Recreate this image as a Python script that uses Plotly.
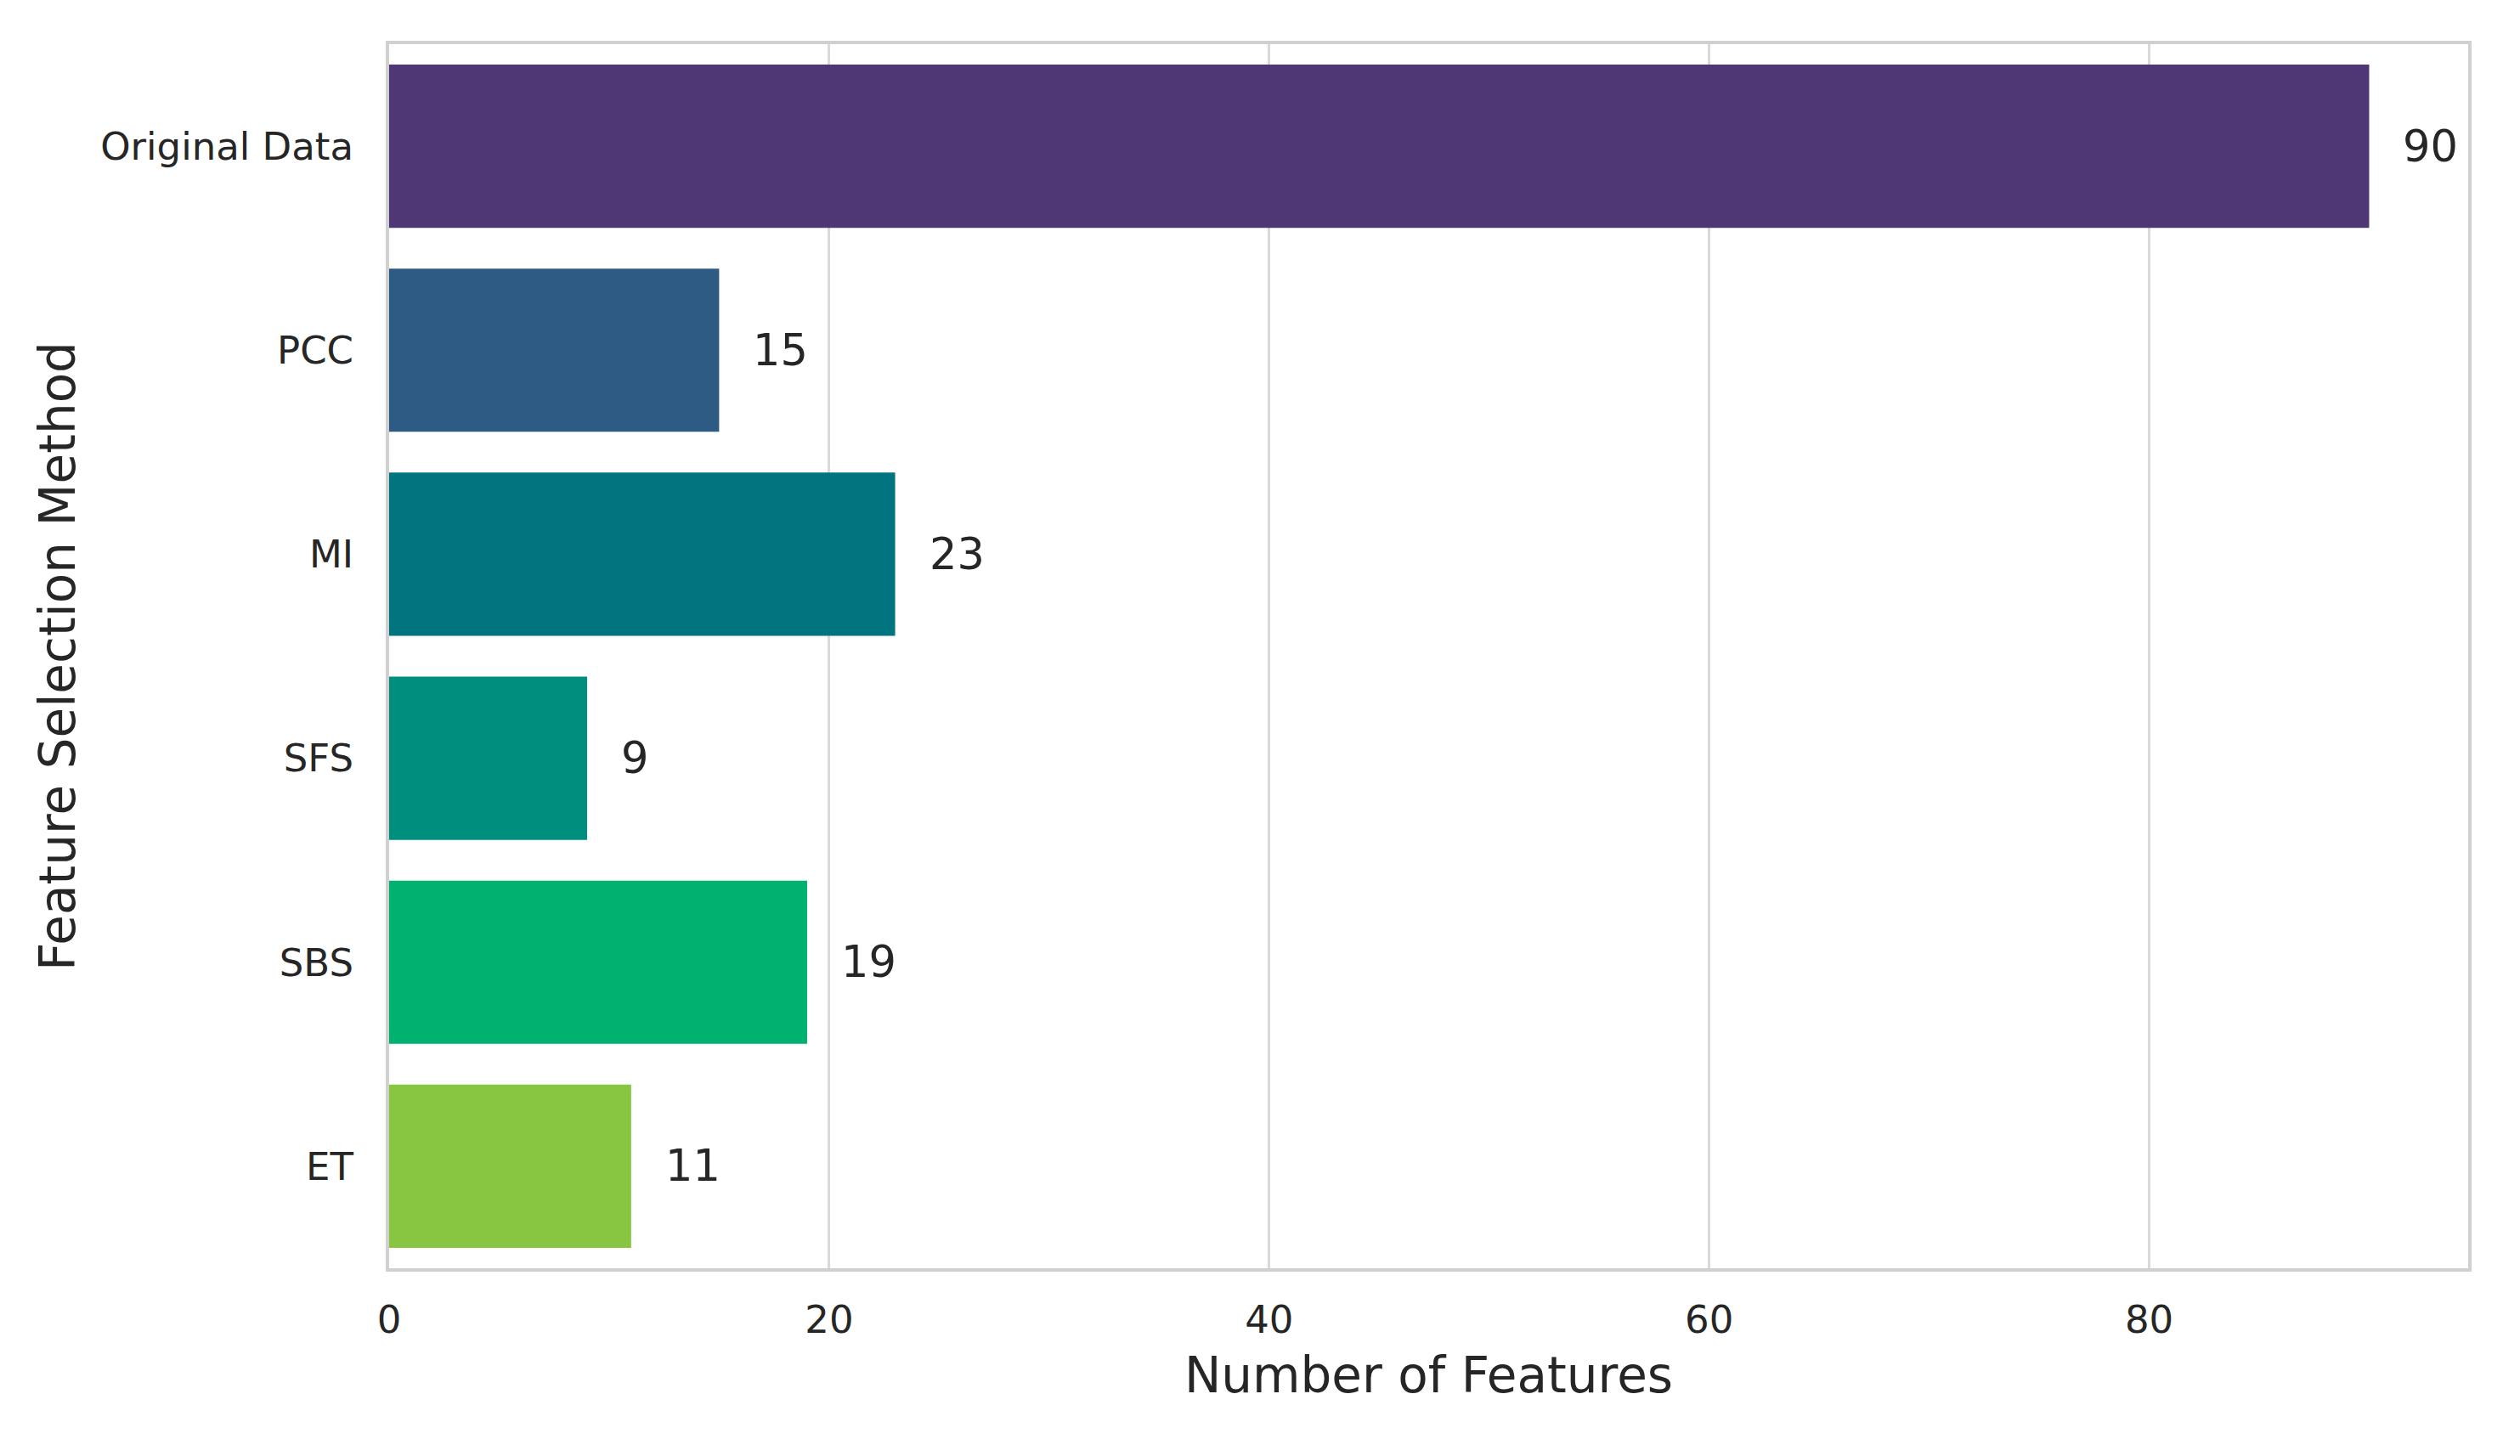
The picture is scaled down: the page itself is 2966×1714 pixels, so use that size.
import plotly.graph_objects as go

methods = ["Original Data", "PCC", "MI", "SFS", "SBS", "ET"]
num_features = [90, 15, 23, 9, 19, 11]
bar_colors = ["#4f3776", "#2e5b84", "#00747f", "#008e7e", "#00b16f", "#88c540"]
x_tick_values = [0, 20, 40, 60, 80]

FONT = "DejaVu Sans"
TXT = "#262626"

fig = go.Figure(
    go.Bar(
        x=num_features,
        y=methods,
        orientation="h",
        width=0.8,
        marker=dict(color=bar_colors, line=dict(width=0)),
        showlegend=False,
        hoverinfo="x+y",
    )
)

for m, v in zip(methods, num_features):
    fig.add_annotation(
        x=v, y=m, text=str(v), showarrow=False,
        xanchor="left", yanchor="middle", xshift=38,
        font=dict(family=FONT, size=51, color=TXT),
    )

# page body has an 8px default margin, so the figure is offset by (8, 8)
fig.update_layout(
    width=2950, height=1698, autosize=False,
    margin=dict(l=450, r=53, t=44, b=213, pad=0),
    paper_bgcolor="white", plot_bgcolor="white",
    font=dict(family=FONT, color=TXT),
    bargap=0.2,
)

fig.update_xaxes(
    range=[0, 94.5],
    tickvals=x_tick_values,
    ticktext=[str(t) for t in x_tick_values],
    tickfont=dict(family=FONT, size=45, color=TXT),
    showgrid=True, gridcolor="#d9d9d9", gridwidth=3,
    zeroline=False,
    showline=True, linecolor="#d0d0d0", linewidth=4, mirror=True,
    ticks="", ticklabelstandoff=18,
    title=dict(text="Number of Features", font=dict(family=FONT, size=58, color=TXT), standoff=20),
)

fig.update_yaxes(
    range=[5.5, -0.5],
    categoryorder="array", categoryarray=methods,
    tickfont=dict(family=FONT, size=45, color=TXT),
    showgrid=False, zeroline=False,
    showline=True, linecolor="#d0d0d0", linewidth=4, mirror=True,
    ticks="", ticklabelstandoff=29,
    title=dict(text="Feature Selection Method", font=dict(family=FONT, size=58, color=TXT), standoff=12),
)

fig.write_html("out.html")
